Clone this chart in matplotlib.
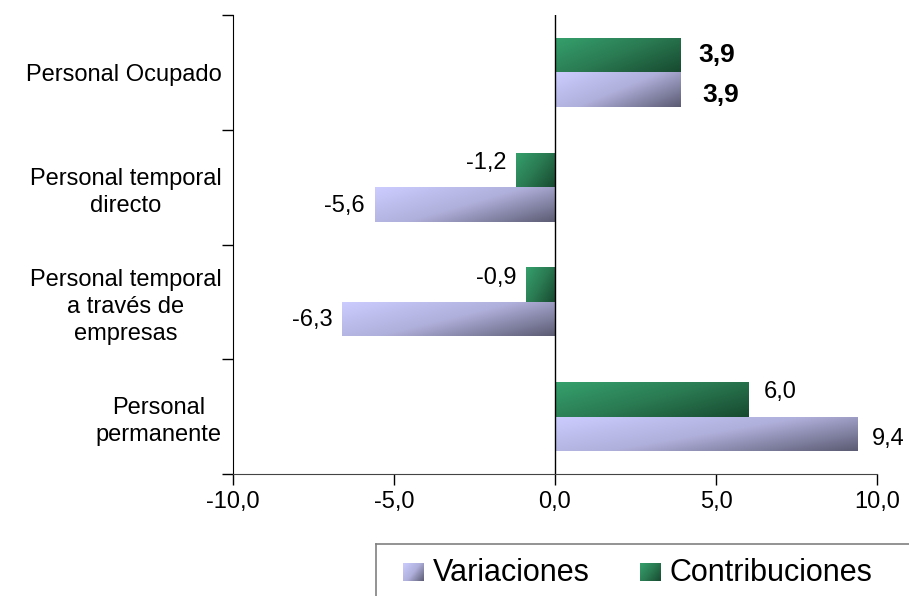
import matplotlib.pyplot as plt
import numpy as np
from matplotlib.colors import LinearSegmentedColormap

plt.rcParams['font.family'] = ['Liberation Sans', 'DejaVu Sans']

categorias = ['Personal Ocupado', 'Personal temporal\ndirecto',
              'Personal temporal\na través de\nempresas', 'Personal\npermanente']
contribuciones = [3.9, -1.2, -0.9, 6.0]
variaciones = [3.9, -5.6, -6.6, 9.4]
etiq_contrib = ['3,9', '-1,2', '-0,9', '6,0']
etiq_var = ['3,9', '-5,6', '-6,3', '9,4']
xticks = [-10, -5, 0, 5, 10]
xtick_labels = ['-10,0', '-5,0', '0,0', '5,0', '10,0']

cmap_var = LinearSegmentedColormap.from_list('var', ['#ccccff', '#b0b0dc', '#5c5c74'])
cmap_con = LinearSegmentedColormap.from_list('con', ['#35a06c', '#2a7a52', '#174a30'])

n = 64
gx, gy = np.meshgrid(np.linspace(0, 1, n), np.linspace(0, 1, n))
grad = (gx * 0.6 + gy * 0.4)


def fill_gradient(ax, bars, cmap):
    for r in bars:
        r.set_facecolor('none')
        r.set_edgecolor('none')
        b = r.get_bbox()
        x0, x1 = min(b.x0, b.x1), max(b.x0, b.x1)
        y0, y1 = min(b.y0, b.y1), max(b.y0, b.y1)
        im = ax.imshow(grad, cmap=cmap, extent=(x0, x1, y1, y0), origin='upper',
                       aspect='auto', zorder=2, interpolation='bilinear')
        im.set_clip_path(r)


def label(ax, v, yy, t, first, dx_pos, dy):
    w = 'bold' if first else 'normal'
    fs = 19 if first else 17
    if v > 0:
        ax.annotate(t, (v, yy), xytext=(dx_pos, dy), textcoords='offset points',
                    ha='left', va='center', fontsize=fs, fontweight=w, zorder=4)
    else:
        ax.annotate(t, (v, yy), xytext=(-7, dy), textcoords='offset points',
                    ha='right', va='center', fontsize=fs, fontweight=w, zorder=4)


fig = plt.figure(figsize=(9.09, 5.96), dpi=100)
ax = fig.add_axes([233 / 909, 1 - 474 / 596, 644 / 909, 459 / 596])

y = np.arange(len(categorias))
h = 0.3
b_con = ax.barh(y - 0.15, contribuciones, height=h, zorder=2)
b_var = ax.barh(y + 0.15, variaciones, height=h, zorder=2)
fill_gradient(ax, b_con, cmap_con)
fill_gradient(ax, b_var, cmap_var)

ax.set_xlim(-10, 10)
ax.set_ylim(3.5, -0.5)
ax.axvline(0, color='black', lw=1, zorder=3)

# etiquetas de valores
for i, (v, t) in enumerate(zip(contribuciones, etiq_contrib)):
    label(ax, v, y[i] - 0.15, t, i == 0, 13 if i == 0 else 11, 0 if i == 0 else 5)
for i, (v, t) in enumerate(zip(variaciones, etiq_var)):
    label(ax, v, y[i] + 0.15, t, i == 0, 16 if i == 0 else 10, -4 if v > 0 else -1)

ax.set_xticks(xticks)
ax.set_xticklabels(xtick_labels, fontsize=17)
ax.set_yticks(y)
ax.set_yticklabels(categorias, fontsize=17, multialignment='center', linespacing=1.3)
ax.set_yticks(np.arange(-0.5, 4, 1), minor=True)
ax.tick_params(axis='y', which='major', length=0, pad=8)
ax.tick_params(axis='y', which='minor', length=8, width=1, direction='out')
ax.tick_params(axis='x', length=8, width=1, direction='out', pad=4)

for s in ['top', 'right']:
    ax.spines[s].set_visible(False)
ax.spines['left'].set_color('black')
ax.spines['bottom'].set_color('#444444')

# caja de leyenda
lax = fig.add_axes([376 / 909, -0.05, 1 - 376 / 909 + 0.05, 52 / 596 + 0.05])
lax.set_xticks([])
lax.set_yticks([])
for s in lax.spines.values():
    s.set_color('#808080')
    s.set_linewidth(1.2)
items = [('Variaciones', cmap_var, 0.047), ('Contribuciones', cmap_con, 0.456)]
for txt, cm, x0 in items:
    sq = plt.Rectangle((x0, 0.55), 0.035, 0.22, facecolor='none', edgecolor='none')
    lax.add_patch(sq)
    im = lax.imshow(grad, cmap=cm, extent=(x0, x0 + 0.035, 0.55, 0.77),
                    origin='upper', aspect='auto', interpolation='bilinear')
    im.set_clip_path(sq)
    lax.text(x0 + 0.052, 0.65, txt, fontsize=22, va='center', ha='left')
lax.set_xlim(0, 1)
lax.set_ylim(0, 1)

fig.savefig('out.png', dpi=100)
